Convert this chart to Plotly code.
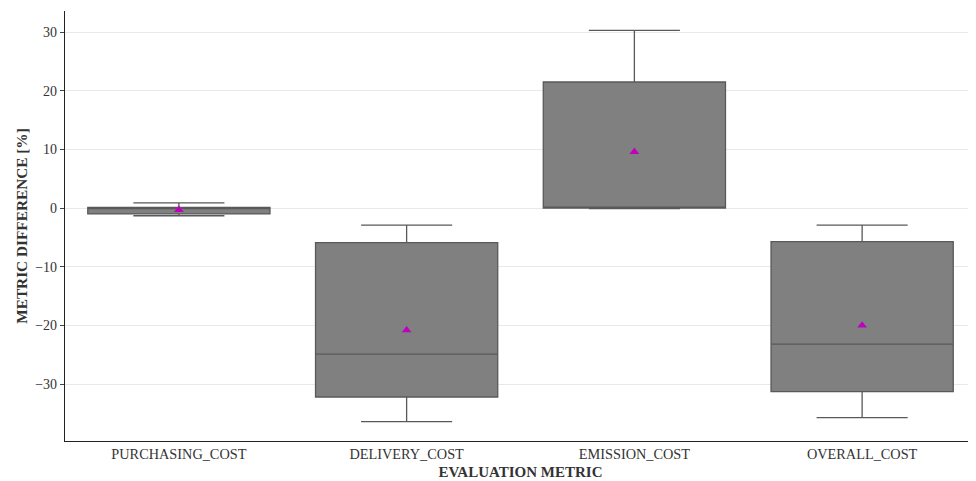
import plotly.graph_objects as go

categories = ["PURCHASING_COST", "DELIVERY_COST", "EMISSION_COST", "OVERALL_COST"]
q1 = [-1.0, -32.2, 0.0, -31.3]
median = [-0.1, -24.9, 0.0, -23.2]
q3 = [0.1, -5.9, 21.5, -5.7]
lower_whisker = [-1.3, -36.4, -0.1, -35.7]
upper_whisker = [0.9, -2.9, 30.3, -2.9]
means = [-0.3, -20.8, 9.6, -20.0]
y_ticks = [-30, -20, -10, 0, 10, 20, 30]

FONT = "Liberation Serif"

fig = go.Figure()
fig.add_trace(go.Box(
    x=categories, q1=q1, median=median, q3=q3,
    lowerfence=lower_whisker, upperfence=upper_whisker,
    fillcolor="#808080",
    line=dict(color="#595959", width=1.3),
    width=0.8, whiskerwidth=0.5,
    boxpoints=False, showlegend=False, hoverinfo="skip",
))
fig.add_trace(go.Scatter(
    x=categories, y=means, mode="markers",
    marker=dict(symbol="triangle-up", size=8.5, color="#bf00bf"),
    showlegend=False,
))

fig.update_layout(
    width=968, height=473,
    margin=dict(l=57, r=0, t=3, b=40),
    plot_bgcolor="white", paper_bgcolor="white",
    font=dict(family=FONT, size=14, color="#333333"),
)
fig.update_xaxes(
    range=[-0.5, 3.5], showgrid=False, showline=True, linecolor="#222222", linewidth=1.3,
    ticks="", automargin=False, tickfont=dict(family=FONT, size=14.3, color="#333333"),
    title=dict(text="<b>EVALUATION METRIC</b>", font=dict(family=FONT, size=15, color="#333333"), standoff=5),
)
fig.update_yaxes(
    range=[-39.7, 33.6], tickvals=y_ticks, showgrid=True, gridcolor="#e8e8e8", gridwidth=1,
    zeroline=False, showline=True, linecolor="#222222", linewidth=1.3,
    ticks="outside", ticklen=4, tickcolor="#444444", automargin=False,
    tickfont=dict(family=FONT, size=14, color="#333333"),
    title=dict(text="<b>METRIC DIFFERENCE [%]</b>", font=dict(family=FONT, size=15.3, color="#333333"), standoff=3),
)

fig.write_html("out.html")
